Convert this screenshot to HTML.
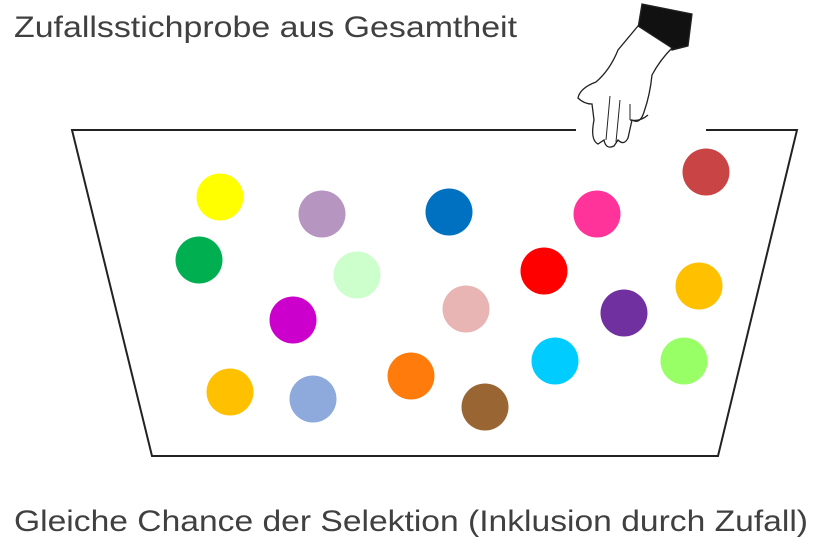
<!DOCTYPE html>
<html><head><meta charset="utf-8"><style>
body{margin:0;background:#fff;width:821px;height:546px;overflow:hidden}
svg{display:block}
text{font-family:"Liberation Sans",sans-serif;fill:#404040}
</style></head><body>
<svg width="821" height="546">
<text x="14" y="37" font-size="30" textLength="503" lengthAdjust="spacingAndGlyphs">Zufallsstichprobe aus Gesamtheit</text>
<text x="14" y="531" font-size="30" textLength="794" lengthAdjust="spacingAndGlyphs">Gleiche Chance der Selektion (Inklusion durch Zufall)</text>
<path d="M576,130 L72,130 L152,456 L718,456 L797,130 L706,130" fill="none" stroke="#222" stroke-width="2"/>
<g stroke="#222" stroke-width="1.3" fill="#fff">
<path d="M642,4 L692,14 L688,46 L672,50 L638,28 Z" fill="#111"/>
<path d="M638,26 L672,48 Q660,60 652,75 Q650,95 644,112 Q640,125 632,120 L628,138 Q624,146 618,140 L614,146 Q606,150 604,140 L598,144 Q590,140 594,120 L592,104 Q584,104 578,98 Q580,88 596,82 Q610,70 618,50 Z"/>
<path d="M630,120 Q640,122 648,115" fill="none"/>
<path d="M610,96 L606,140 M620,100 L616,142 M630,104 L630,120" fill="none" stroke-width="1"/>
</g>
<g id="balls"></g>
</svg>
<script>
const xs=[220,322,449,597,706,199,357,544,699,293,466,624,230,313,411,485,555,684];
const ys=[197,214,212,214,172,260,275,271,286,320,309,313,392,399,376,407,361,361];
const colors=["#FFFF00","#B695C0","#0070C0","#FF3399","#C94444","#00B050","#CCFFCC","#FF0000","#FFC000","#CC00CC","#E8B4B4","#7030A0","#FFC000","#8EA9DB","#FF7C0C","#996633","#00CCFF","#99FF66"];
const g=document.getElementById('balls');
xs.forEach((x,i)=>{
const c=document.createElementNS('http://www.w3.org/2000/svg','circle');
c.setAttribute('cx',x);c.setAttribute('cy',ys[i]);c.setAttribute('r',23.5);c.setAttribute('fill',colors[i]);


g.appendChild(c);});
</script>
</body></html>
